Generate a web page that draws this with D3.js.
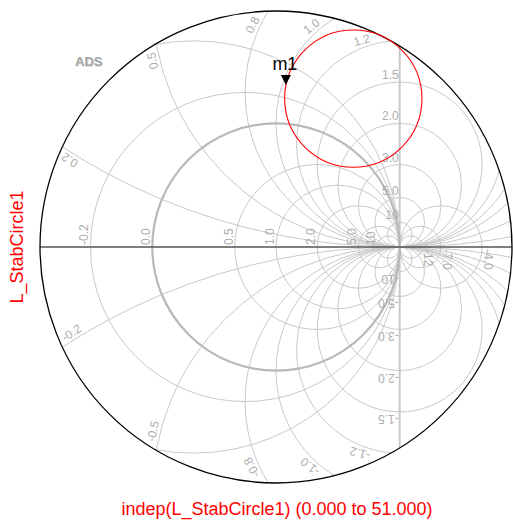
<!DOCTYPE html>
<html>
<head>
<meta charset="utf-8">
<script src="https://cdn.jsdelivr.net/npm/d3@7"></script>
<style>
  html, body { margin: 0; padding: 0; background: #ffffff; }
  svg { display: block; font-family: "Liberation Sans", Arial, Helvetica, sans-serif; }
</style>
</head>
<body>
<svg id="chart" width="513" height="523"></svg>
<script>
// ---- trace: load stability circle in the reflection-coefficient plane ----
const traceName = "L_StabCircle1";
const sweepLabel = "indep(L_StabCircle1) (0.000 to 51.000)";
const stabCenter = [0.625, 1.200];   // [Re, Im]
const stabRadius = 0.555;
const markerName = "m1";
const markerPoint = [0.08, 1.31];    // [Re, Im]

// ---- Smith grid ----
const resistanceCircles = [-0.4, -0.2, 0.5, 1, 2, 5, 10];
const mirroredResistance = [-4, -7, -12];
const unitResistance = 0;            // |Γ| = 1 boundary, drawn heavier
const resistanceTicks = [-0.2, 0, 0.5, 1, 2, 5, 10, -12, -7, -4];
const resistanceTickLabels = ["-0.2", "0.0", "0.5", "1.0", "2.0", "5.0", "10", "-12", "-7.0", "-4.0"];
const reactanceCircles = [0.2, 0.5, 0.8, 1, 1.2, 1.5, 2, 3, 5, 10];
const reactanceTickLabels = ["0.2", "0.5", "0.8", "1.0", "1.2", "1.5", "2.0", "3.0", "5.0", "10"];

const svg = d3.select("#chart");
const cx0 = 276, cy0 = 247, Rpx = 236;

// outer boundary just encloses the trace
const G = Math.hypot(stabCenter[0], stabCenter[1]) + stabRadius;
const xs = d3.scaleLinear().domain([-G, G]).range([cx0 - Rpx, cx0 + Rpx]);
const ys = d3.scaleLinear().domain([-G, G]).range([cy0 + Rpx, cy0 - Rpx]);
const k = Rpx / G;

svg.append("defs").append("clipPath").attr("id", "clipChart")
  .append("circle").attr("cx", xs(0)).attr("cy", ys(0)).attr("r", Rpx);

const grid = svg.append("g").attr("clip-path", "url(#clipChart)")
  .attr("fill", "none");

const rGeom = r => ({ u: r / (r + 1), rho: 1 / Math.abs(r + 1) });

// constant-resistance circles
grid.selectAll("circle.res")
  .data(resistanceCircles.concat(mirroredResistance))
  .join("circle")
  .attr("class", "res")
  .attr("cx", r => xs(rGeom(r).u))
  .attr("cy", ys(0))
  .attr("r", r => rGeom(r).rho * k)
  .attr("stroke", "#c8c8c8")
  .attr("stroke-width", 1);

// constant-reactance circles (both signs)
const reactanceSigned = reactanceCircles.flatMap(x => [x, -x]);
grid.selectAll("circle.rea")
  .data(reactanceSigned)
  .join("circle")
  .attr("class", "rea")
  .attr("cx", xs(1))
  .attr("cy", x => ys(1 / x))
  .attr("r", x => Math.abs(1 / x) * k)
  .attr("stroke", "#c8c8c8")
  .attr("stroke-width", 1);

// r = -1 degenerates into the vertical line Re(Γ) = 1
const vEdge = Math.sqrt(G * G - 1);
grid.append("line")
  .attr("x1", xs(1)).attr("x2", xs(1))
  .attr("y1", ys(vEdge)).attr("y2", ys(-vEdge))
  .attr("stroke", "#c8c8c8").attr("stroke-width", 2);

// unit circle
grid.append("circle")
  .attr("cx", xs(rGeom(unitResistance).u)).attr("cy", ys(0))
  .attr("r", rGeom(unitResistance).rho * k)
  .attr("stroke", "#b9b9b9").attr("stroke-width", 2.2);

// real axis
svg.append("line")
  .attr("x1", xs(-G)).attr("x2", xs(G))
  .attr("y1", ys(0)).attr("y2", ys(0))
  .attr("stroke", "#555555").attr("stroke-width", 1.6);

// outer boundary
svg.append("circle")
  .attr("cx", xs(0)).attr("cy", ys(0)).attr("r", Rpx)
  .attr("fill", "none").attr("stroke", "#000000").attr("stroke-width", 1.3);

// ---- tick labels ----
const labels = svg.append("g").attr("font-size", 12).attr("fill", "#adadad");

function textWidth(str) {
  const t = labels.append("text").text(str);
  const w = t.node().getComputedTextLength();
  t.remove();
  return w;
}

function putLabel(str, A, angle, anchor) {
  labels.append("text")
    .attr("transform", `translate(${A[0].toFixed(2)},${A[1].toFixed(2)}) rotate(${angle.toFixed(2)})`)
    .attr("text-anchor", anchor)
    .text(str);
}

// resistance labels sit on the real axis, outside their circle
resistanceTicks.forEach((r, i) => {
  const g = (r - 1) / (r + 1);
  const side = r > -1 ? -1 : 1;
  const gap = 2;
  const A = [xs(g) + gap * side, ys(0) + 2 * side];
  putLabel(resistanceTickLabels[i], A, side * 90, "start");
});

// reactance labels: at the crossing with Re(Γ)=1, or pulled back from the boundary
function reactanceAnchor(x, w) {
  const cv = 1 / x, rho = 1 / x;
  const gap = 3, capH = 9, margin = 3;
  const vTop = 2 * cv;
  if (vTop < vEdge - 0.02) {
    return { A: [xs(1) - 1, ys(vTop) - gap], angle: 0 };
  }
  const pt = f => [1 + rho * Math.cos(f), cv + rho * Math.sin(f)];
  const step = 0.0004;
  let phi = -Math.PI / 2;
  while (Math.hypot(...pt(phi - step)) < G && phi > -1.5 * Math.PI) phi -= step;
  const Rlim = Rpx - margin;
  for (let f = phi; f < -Math.PI / 2; f += step) {
    const P = pt(f);
    const ps = [xs(P[0]), ys(P[1])];
    const n = [Math.cos(f), -Math.sin(f)];
    const t = [-n[1], n[0]];
    const A = [ps[0] + gap * n[0], ps[1] + gap * n[1]];
    const corners = [[0, 0], [-w, 0], [0, -capH], [-w, -capH]]
      .map(([lx, ly]) => [A[0] + lx * t[0] - ly * n[0], A[1] + lx * t[1] - ly * n[1]]);
    if (corners.every(c => Math.hypot(c[0] - cx0, c[1] - cy0) <= Rlim)) {
      return { A, angle: Math.atan2(t[1], t[0]) * 180 / Math.PI };
    }
  }
  return { A: [xs(pt(phi)[0]), ys(pt(phi)[1])], angle: 0 };
}

reactanceCircles.forEach((x, i) => {
  const str = reactanceTickLabels[i];
  const pos = reactanceAnchor(x, textWidth(str));
  putLabel(str, pos.A, pos.angle, "end");
  // negative reactance: mirrored placement below the axis
  putLabel("-" + str, [pos.A[0], 2 * cy0 - pos.A[1]], 180 - pos.angle, "start");
});

// ---- "ADS" badge ----
svg.append("text").attr("x", 76).attr("y", 67)
  .attr("font-size", 13).attr("font-weight", "bold")
  .attr("fill", "#e2e2e2").text("ADS");
svg.append("text").attr("x", 75).attr("y", 66)
  .attr("font-size", 13).attr("font-weight", "bold")
  .attr("fill", "#a3a3a3").text("ADS");

// ---- trace ----
svg.append("circle")
  .attr("cx", xs(stabCenter[0])).attr("cy", ys(stabCenter[1]))
  .attr("r", stabRadius * k)
  .attr("fill", "none").attr("stroke", "#ff0000").attr("stroke-width", 1.1);

// ---- marker ----
const mx = xs(markerPoint[0]), my = ys(markerPoint[1]);
svg.append("path")
  .attr("d", `M${mx - 5},${my - 10}L${mx + 5},${my - 10}L${mx},${my}Z`)
  .attr("fill", "#000000");
svg.append("text")
  .attr("x", mx - 1).attr("y", my - 15)
  .attr("text-anchor", "middle").attr("font-size", 18)
  .attr("fill", "#000000").text(markerName);

// ---- axis titles ----
svg.append("text")
  .attr("x", 277).attr("y", 515)
  .attr("text-anchor", "middle").attr("font-size", 18)
  .attr("fill", "#ff0000").text(sweepLabel);
svg.append("text")
  .attr("transform", `translate(23,${cy0}) rotate(-90)`)
  .attr("text-anchor", "middle").attr("font-size", 18)
  .attr("fill", "#ff0000").text(traceName);
</script>
</body>
</html>
